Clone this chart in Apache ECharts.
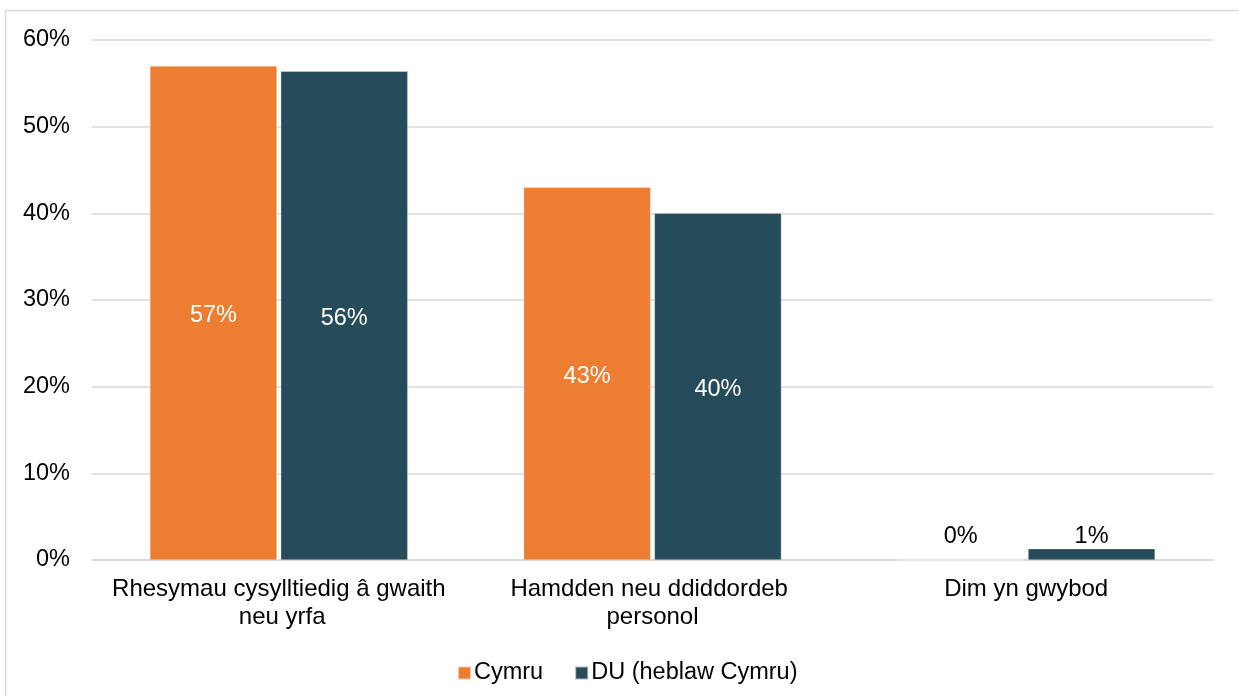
<!DOCTYPE html>
<html><head><meta charset="utf-8">
<script src="https://cdn.jsdelivr.net/npm/echarts@6/dist/echarts.min.js"></script>
<style>html,body{margin:0;padding:0;background:#fff}#c{width:1239px;height:696px}</style>
</head><body><div id="c"></div>
<script>
const categories = ['Rhesymau cysylltiedig â gwaith neu yrfa', 'Hamdden neu ddiddordeb personol', 'Dim yn gwybod'];
const seriesNames = ['Cymru', 'DU (heblaw Cymru)'];
const cymru = [57.0, 43.0, 0];
const du = [56.4, 40.0, 1.3];
const yTicks = [0, 10, 20, 30, 40, 50, 60];
const colors = ['#ED7D31', '#264B5A'];

const FS = 23.5;
function buildData(vals) {
  return vals.map(v => {
    if (v < 5) {
      return { value: v, label: { position: 'top', color: '#000', offset: [0, 0], distance: v === 0 ? 11 : 0 } };
    }
    return { value: v };
  });
}
function mkSeries(name, vals, color) {
  return {
    name: name, type: 'bar', data: buildData(vals),
    barWidth: 127, barGap: '3%',
    itemStyle: { color: color, borderColor: 'rgba(255,255,255,0.6)', borderWidth: 0.5 },
    label: {
      show: true, position: 'inside', color: '#fff', fontSize: FS, offset: [0, 3],
      fontFamily: 'Liberation Sans, Arial, sans-serif',
      formatter: p => Math.round(p.value) + '%'
    }
  };
}
const chart = echarts.init(document.getElementById('c'));
chart.setOption({
  animation: false,
  textStyle: { fontFamily: 'Liberation Sans, Arial, sans-serif' },
  graphic: [{
    type: 'rect', silent: true, z: -1,
    shape: { x: 5.5, y: 10.5, width: 1300, height: 800 },
    style: { fill: 'none', stroke: '#d9d9d9', lineWidth: 1.5 }
  }],
  grid: { left: 92, right: 26, top: 40, bottom: 136, containLabel: false },
  legend: {
    data: seriesNames, left: 452, top: 656,
    itemWidth: 13, itemHeight: 13, itemGap: 31,
    icon: 'rect',
    textStyle: { fontSize: FS, color: '#000', padding: [0, 0, 0, -2] }
  },
  xAxis: {
    type: 'category', data: categories,
    axisLine: { show: true, lineStyle: { color: '#d9d9d9', width: 1.5 } },
    axisTick: { show: false },
    axisLabel: {
      color: '#000', fontSize: 24, margin: 15, lineHeight: 28,
      width: 350, overflow: 'break', interval: 0
    }
  },
  yAxis: {
    type: 'value', min: yTicks[0], max: yTicks[yTicks.length - 1], interval: 10,
    axisLine: { show: false }, axisTick: { show: false },
    splitLine: { lineStyle: { color: '#d9d9d9', width: 1.5 } },
    axisLabel: { color: '#000', fontSize: FS, margin: 22, formatter: '{value}%' }
  },
  series: [mkSeries(seriesNames[0], cymru, colors[0]), mkSeries(seriesNames[1], du, colors[1])]
});
</script></body></html>
